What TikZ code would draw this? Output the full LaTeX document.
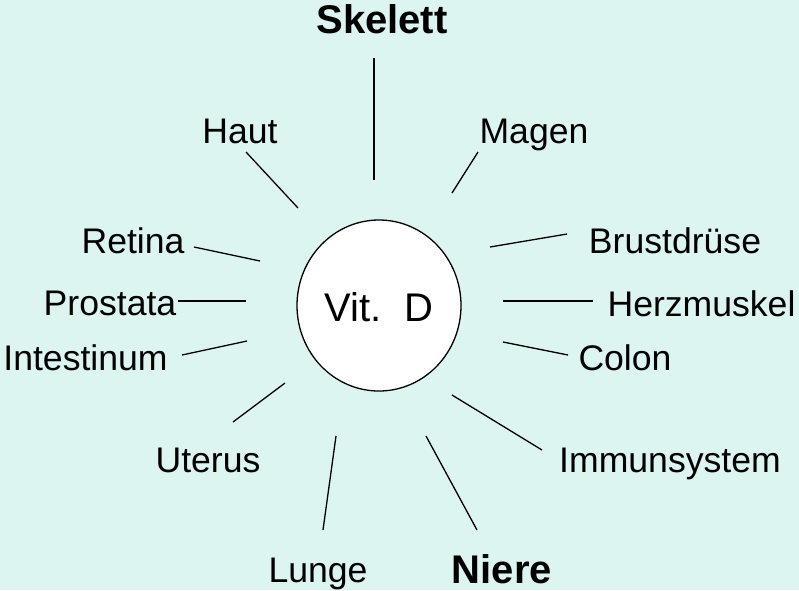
\documentclass[tikz,border=0pt]{standalone}
\usepackage{fontspec}
\setmainfont{Liberation Sans}
\usetikzlibrary{shapes.geometric}
\definecolor{bgcol}{RGB}{220,245,240}
\tikzset{
  lbl/.style={anchor=base, inner sep=0pt, font=\fontsize{35.6}{42}\selectfont},
  blbl/.style={anchor=base, inner sep=0pt, font=\fontsize{40}{48}\selectfont\bfseries},
  ray/.style={line width=1.3pt, black},
}
\begin{document}
\begin{tikzpicture}[x=1pt, y=-1pt]
\fill[bgcol] (0,0) rectangle (799,590);
\useasboundingbox (0,0) rectangle (799,590);
% centre
\node[draw, line width=1.3pt, ellipse, fill=white, minimum width=164pt, minimum height=171pt, inner sep=0pt] (vd) at (379,305.5) {};
\node[anchor=base, inner sep=0pt, font=\fontsize{40}{48}\selectfont] (vdt) at (379,321) {Vit.\ \ D};
% labels
\node[blbl] (skelett) at (382,33) {Skelett};
\node[lbl] (haut) at (240,143) {Haut};
\node[lbl] (magen) at (534,143) {Magen};
\node[lbl] (retina) at (133,253) {Retina};
\node[lbl] (prostata) at (110,315) {Prostata};
\node[lbl] (intestinum) at (85.5,370) {Intestinum};
\node[lbl] (brust) at (675,253) {Brustdrüse};
\node[lbl] (herz) at (701.5,316) {Herzmuskel};
\node[lbl] (colon) at (625,370) {Colon};
\node[lbl] (uterus) at (208,472) {Uterus};
\node[lbl] (immun) at (670,472) {Immunsystem};
\node[lbl] (lunge) at (318,582) {Lunge};
\node[blbl] (niere) at (502,583) {Niere};
% ray end points
\coordinate (s1) at (374,58);   \coordinate (s2) at (374,180);
\coordinate (h1) at (246,152);  \coordinate (h2) at (298,208);
\coordinate (m1) at (478,152);  \coordinate (m2) at (452,193);
\coordinate (r1) at (194,247);  \coordinate (r2) at (260,261);
\coordinate (p1) at (178,301);  \coordinate (p2) at (246,301);
\coordinate (i1) at (182,355);  \coordinate (i2) at (247,341);
\coordinate (b1) at (490,247);  \coordinate (b2) at (567,234);
\coordinate (z1) at (503,301);  \coordinate (z2) at (593,301);
\coordinate (c1) at (503,342);  \coordinate (c2) at (568,355);
\coordinate (u1) at (285,383);  \coordinate (u2) at (233,422);
\coordinate (l1) at (336,436);  \coordinate (l2) at (323,530);
\coordinate (n1) at (426,436);  \coordinate (n2) at (477,530);
\coordinate (y1) at (452,395);  \coordinate (y2) at (542,450);
% rays
\draw[ray] (s1) -- (s2);
\draw[ray] (h1) -- (h2);
\draw[ray] (m1) -- (m2);
\draw[ray] (r1) -- (r2);
\draw[ray] (p1) -- (p2);
\draw[ray] (i1) -- (i2);
\draw[ray] (b1) -- (b2);
\draw[ray] (z1) -- (z2);
\draw[ray] (c1) -- (c2);
\draw[ray] (u1) -- (u2);
\draw[ray] (l1) -- (l2);
\draw[ray] (n1) -- (n2);
\draw[ray] (y1) -- (y2);
\end{tikzpicture}
\end{document}
